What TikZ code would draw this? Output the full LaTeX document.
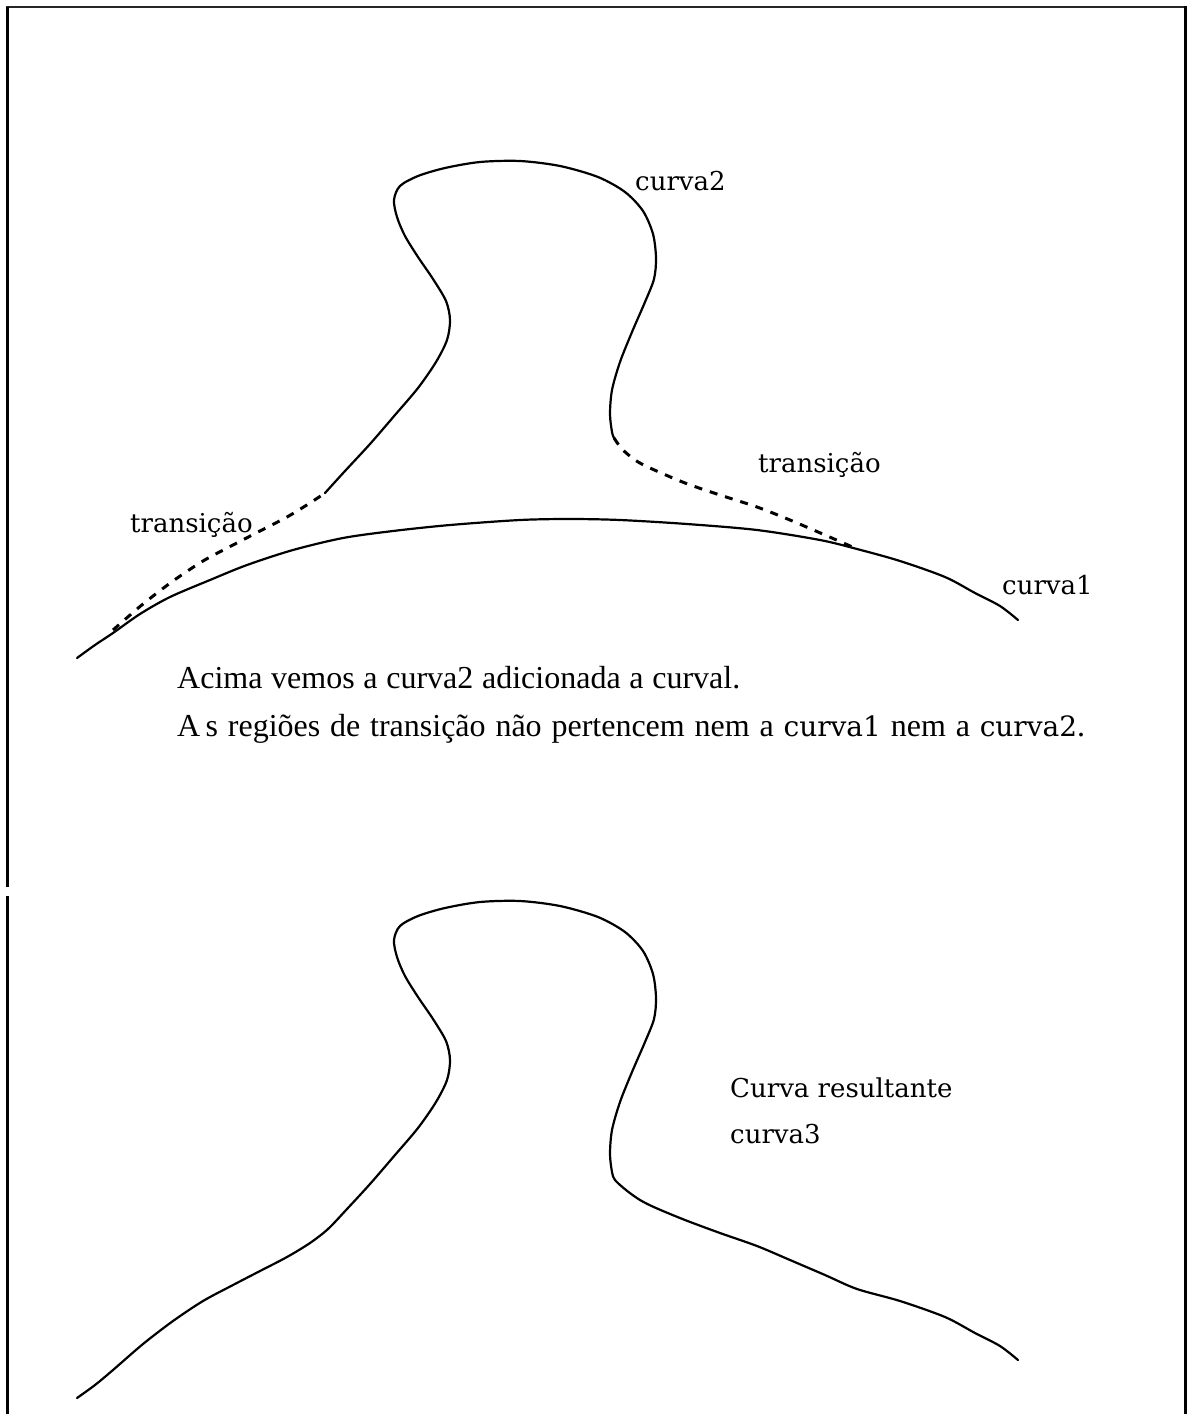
\documentclass[tikz,border=0pt]{standalone}
\usepackage{fontspec}
\setmainfont{Liberation Serif}
\newfontfamily\lblfont{DejaVu Serif}
\begin{document}
\begin{tikzpicture}[x=1pt,y=-1pt,
  curve/.style={line width=2.2pt, line join=round, line cap=round},
  trans/.style={line width=3pt, dash pattern=on 8pt off 8pt},
  frame/.style={line width=3pt},
  lbl/.style={inner sep=0pt, anchor=base west, font=\lblfont\fontsize{26}{30}\selectfont},
  captext/.style={inner sep=0pt, anchor=base west, font=\fontsize{32}{38}\selectfont}]
\useasboundingbox (0,0) rectangle (1192,1414);

% frame (open at the bottom, small break on the left side)
\draw[line width=2.5pt, black!85] (6,7) -- (1186,7);
\draw[frame] (7,7) -- (7,887);
\draw[frame] (7,896) -- (7,1414);
\draw[frame] (1185,6) -- (1185,1414);

% ---- upper figure ----
% curva1
\draw[curve] plot[smooth, tension=0.5] coordinates {
  (77,658) (95,645) (113,633) (140,614) (170,597) (210,580) (247,565)
  (293,550) (343,538) (393,531) (450,525) (520,520) (570,519) (620,520)
  (687,524) (757,530) (820,540) (857,549) (900,561) (945,577) (975,593)
  (1000,606) (1018,620)};
% curva2
\draw[curve] plot[smooth, tension=0.5] coordinates {
  (325,493) (345,471) (370,444) (395,415) (418,388) (436,362) (447,340)
  (450,320) (446,301) (433,279) (418,257) (405,236) (397,217) (394,200)
  (400,186) (418,176) (445,168) (480,162) (520,161) (560,166) (598,177)
  (625,192) (643,211) (653,234) (656,258) (654,279) (645,302) (632,332)
  (620,362) (612,390) (610,414) (612,432) (614,438)};
% transition regions
\draw[trans] plot[smooth, tension=0.5] coordinates {
  (113,630) (143,604) (173,581) (203,561) (233,545) (260,531) (287,517)
  (310,503) (325,493)};
\draw[trans] plot[smooth, tension=0.5] coordinates {
  (614,438) (622,449) (635,460) (650,468) (685,483) (720,495) (757,507)
  (790,520) (825,535) (857,549)};

\node[lbl] (c2lbl) at (635,190) {curva2};
\node[lbl] (t1lbl) at (130,532) {transição};
\node[lbl] (t2lbl) at (758,472) {transição};
\node[lbl] (c1lbl) at (1002,594) {curva1};

\node[captext] (cap1) at (177,688) {\hbox to 563pt{Acima vemos a curva2 adicionada a curval.}};
\node[captext] (cap2) at (177,736) {\hbox to 908pt{A\,s regiões de transição não pertencem nem a
  {\lblfont\fontsize{28}{30}\selectfont curva1} nem a
  {\lblfont\fontsize{28}{30}\selectfont curva2}.}};

% ---- lower figure: resulting curve ----
\draw[curve] plot[smooth, tension=0.5] coordinates {
  (77,1398) (95,1385) (113,1370) (143,1344) (173,1321) (203,1301)
  (233,1285) (260,1271) (287,1257) (310,1243) (328,1229) (347,1209)
  (370,1184) (395,1155) (418,1128) (436,1102) (447,1080) (450,1060)
  (446,1041) (433,1019) (418,997) (405,976) (397,957) (394,940) (400,926)
  (418,916) (445,908) (480,902) (520,901) (560,906) (598,917) (625,932)
  (643,951) (653,974) (656,998) (654,1019) (645,1042) (632,1072)
  (620,1102) (612,1130) (610,1154) (612,1172) (615,1180) (626,1190)
  (640,1200) (656,1208) (685,1220) (720,1233) (757,1246) (790,1260)
  (825,1275) (857,1289) (900,1301) (945,1317) (975,1333) (1000,1346)
  (1018,1360)};

\node[lbl] (reslbl) at (730,1097) {Curva resultante};
\node[lbl] (c3lbl) at (730,1143) {curva3};
\end{tikzpicture}
\end{document}
